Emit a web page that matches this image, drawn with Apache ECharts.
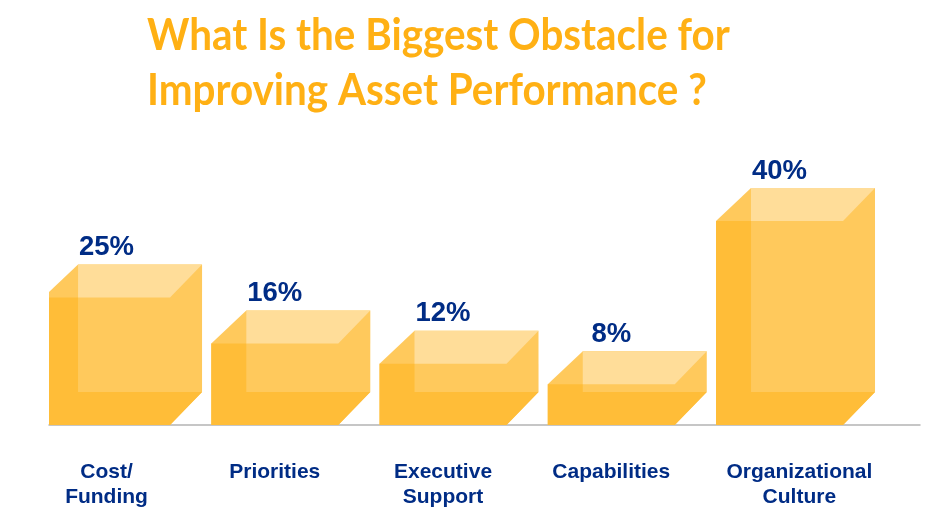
<!DOCTYPE html>
<html><head><meta charset="utf-8">
<style>html,body{margin:0;padding:0;background:#fff}#c{width:940px;height:518px}</style>
<script src="https://cdn.jsdelivr.net/npm/echarts@6/dist/echarts.min.js"></script>
</head><body><div id="c"></div>
<script>
const titleLines = ["What Is the Biggest Obstacle for", "Improving Asset Performance ?"];
const categories = ["Cost/\nFunding", "Priorities", "Executive\nSupport", "Capabilities", "Organizational\nCulture"];
const values = [25, 16, 12, 8, 40];
const labelSlots = [0, 1, 2, 3, 4.118];

const FRONT_W = 127, BACK_L = 35, BACK_R = 159, DEPTH_Y = 33;
const C_BACK = "#FFC95C", C_DARK = "#FFBD38", C_TOP = "#FFDD99";

const chart = echarts.init(document.getElementById("c"), null, {renderer: "canvas"});
function poly(points, fill) {
  return {type: "polygon", shape: {points}, style: {fill, stroke: null}};
}
function titleLine(text, y) {
  return {
    type: "text", x: 147, y, scaleX: 0.918,
    style: {text, fontFamily: "Lato", fontWeight: "bold", fontSize: 44,
            fill: "#FFB014", verticalAlign: "top", align: "left"}
  };
}
chart.setOption({
  animation: false,
  backgroundColor: "#fff",
  graphic: [titleLine(titleLines[0], 14), titleLine(titleLines[1], 69)],
  grid: {left: 49, right: 20, top: 119, bottom: 93, containLabel: false},
  xAxis: {
    type: "value", min: -0.342, max: 4.835, splitLine: {show: false},
    axisLine: {show: true, onZero: false, lineStyle: {color: "#B4B4B4", width: 1.5}},
    axisTick: {show: false},
    axisLabel: {
      show: true, customValues: labelSlots, margin: 35, hideOverlap: false,
      showMinLabel: true, showMaxLabel: true,
      formatter: v => categories[labelSlots.indexOf(v)] || "",
      fontFamily: "Liberation Sans", fontWeight: "bold", fontSize: 21, lineHeight: 24.5,
      color: "#002C85", verticalAlign: "top"
    }
  },
  yAxis: {type: "value", min: 0, max: 60, show: false},
  series: [{
    type: "custom", clip: true, coordinateSystem: "cartesian2d",
    data: values.map((v, i) => [i, v]),
    encode: {x: 0, y: 1},
    renderItem(params, api) {
      const top = api.coord([api.value(0), api.value(1)]);
      const base = api.coord([api.value(0), 0]);
      const x0 = top[0] - FRONT_W / 2, x1 = x0 + FRONT_W;
      const bl = x0 + BACK_L, br = x0 + BACK_R;
      const yT = top[1], yB = base[1], byT = yT - DEPTH_Y, byB = yB - DEPTH_Y;
      return {
        type: "group",
        children: [
          poly([[x0, yB], [x0, yT], [bl, byT], [br, byT], [br, byB], [x1, yB]], C_BACK),
          poly([[x0, yT], [bl, yT], [bl, byB], [br, byB], [x1, yB], [x0, yB]], C_DARK),
          poly([[bl, byT], [br, byT], [x1, yT], [bl, yT]], C_TOP),
          {type: "text", x: top[0], y: byT - 17,
           style: {text: api.value(1) + "%", align: "center", verticalAlign: "middle",
                   fontFamily: "Liberation Sans", fontWeight: "bold", fontSize: 27.5, fill: "#002C85"}}
        ]
      };
    }
  }]
});
</script></body></html>
